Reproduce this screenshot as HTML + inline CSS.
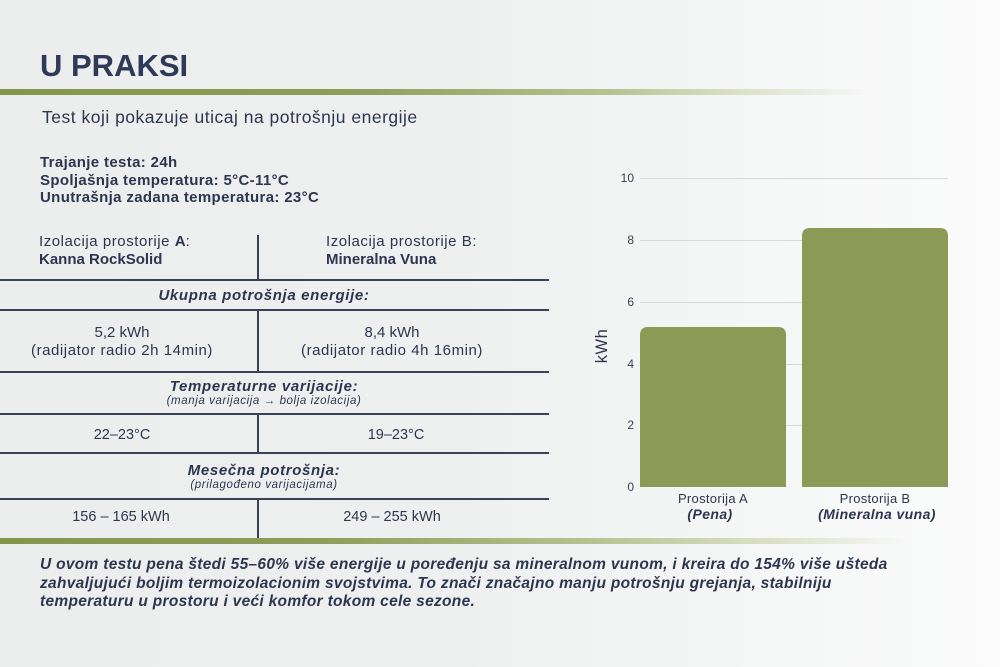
<!DOCTYPE html>
<html><head><meta charset="utf-8"><style>
html,body{margin:0;padding:0;}
body{width:1000px;height:667px;position:relative;overflow:hidden;
background:linear-gradient(90deg,#eceded 0%,#eef0f0 45%,#f6f7f7 80%,#fbfbfb 100%);
font-family:"Liberation Sans",sans-serif;color:#2d3650;}
.a{position:absolute;white-space:nowrap;}
.hl{position:absolute;left:0;height:1.5px;background:#3b4258;}
.vl{position:absolute;width:1.5px;background:#3b4258;left:257px;}
.c{position:absolute;text-align:center;white-space:nowrap;transform:translateX(-50%);}
.w{letter-spacing:0.55px;}
.hb{font-size:15px;font-weight:bold;font-style:italic;letter-spacing:0.65px;}
.sm{font-size:11.5px;font-style:italic;letter-spacing:0.6px;}
</style></head><body>
<div class="a" style="left:40px;top:48px;font-size:31px;font-weight:bold;color:#2f3a58;">U PRAKSI</div>
<div style="position:absolute;left:0;top:89px;width:870px;height:6px;background:linear-gradient(90deg,#84954c 0%,#8e9d58 40%,#b9c192 70%,#dde0c8 85%,rgba(240,240,235,0) 100%);"></div>
<div class="a" style="left:42px;top:107px;font-size:17.5px;letter-spacing:0.5px;">Test koji pokazuje uticaj na potrošnju energije</div>
<div class="a" style="left:40px;top:154px;font-size:15px;font-weight:bold;line-height:17.5px;letter-spacing:0.35px;">Trajanje testa: 24h<br>Spoljašnja temperatura: 5°C-11°C<br>Unutrašnja zadana temperatura: 23°C</div>

<div class="a" style="left:39px;top:233px;font-size:15px;line-height:17.5px;"><span class="w">Izolacija prostorije <b style="letter-spacing:0">A</b>:</span><br><b>Kanna RockSolid</b></div>
<div class="a" style="left:326px;top:233px;font-size:15px;line-height:17.5px;"><span class="w">Izolacija prostorije B:</span><br><b>Mineralna Vuna</b></div>
<div class="vl" style="top:235px;height:44px;"></div>
<div class="hl" style="top:279px;width:549px;"></div>
<div class="c hb" style="left:264px;top:287px;">Ukupna potrošnja energije:</div>
<div class="hl" style="top:309px;width:549px;"></div>
<div class="vl" style="top:310px;height:62px;"></div>
<div class="c" style="left:122px;top:324px;font-size:15px;line-height:17.5px;">5,2 kWh<br><span class="w">(radijator radio 2h 14min)</span></div>
<div class="c" style="left:392px;top:324px;font-size:15px;line-height:17.5px;">8,4 kWh<br><span class="w">(radijator radio 4h 16min)</span></div>
<div class="hl" style="top:371px;width:549px;"></div>
<div class="c hb" style="left:264px;top:378px;">Temperaturne varijacije:</div>
<div class="c sm" style="left:264px;top:395px;">(manja varijacija → bolja izolacija)</div>
<div class="hl" style="top:413px;width:549px;"></div>
<div class="vl" style="top:414px;height:38px;"></div>
<div class="c" style="left:122px;top:427px;font-size:14.5px;">22–23°C</div>
<div class="c" style="left:396px;top:427px;font-size:14.5px;">19–23°C</div>
<div class="hl" style="top:452px;width:549px;"></div>
<div class="c hb" style="left:264px;top:462px;">Mesečna potrošnja:</div>
<div class="c sm" style="left:264px;top:479px;">(prilagođeno varijacijama)</div>
<div class="hl" style="top:498px;width:549px;"></div>
<div class="vl" style="top:499px;height:39px;"></div>
<div class="c" style="left:121px;top:509px;font-size:14.5px;">156 – 165 kWh</div>
<div class="c" style="left:392px;top:509px;font-size:14.5px;">249 – 255 kWh</div>

<div style="position:absolute;left:0;top:538px;width:910px;height:6px;background:linear-gradient(90deg,#84954c 0%,#8e9d58 35%,#b9c192 65%,#dde0c8 85%,rgba(240,240,235,0) 100%);"></div>
<div class="a" style="left:40px;top:556px;font-size:15.5px;font-weight:bold;font-style:italic;line-height:18.5px;letter-spacing:0.3px;">U ovom testu pena štedi 55–60% više energije u poređenju sa mineralnom vunom, i kreira do 154% više ušteda<br>zahvaljujući boljim termoizolacionim svojstvima. To znači značajno manju potrošnju grejanja, stabilniju<br>temperaturu u prostoru i veći komfor tokom cele sezone.</div>

<svg style="position:absolute;left:0;top:0" width="1000" height="667">
<g stroke="#d8d9da" stroke-width="1">
<line x1="640" y1="178.5" x2="948" y2="178.5"/>
<line x1="640" y1="240.5" x2="948" y2="240.5"/>
<line x1="640" y1="302.5" x2="948" y2="302.5"/>
<line x1="640" y1="364.5" x2="948" y2="364.5"/>
<line x1="640" y1="425.5" x2="948" y2="425.5"/>
</g>
<path d="M640,487 L640,335 Q640,327 648,327 L778,327 Q786,327 786,335 L786,487 Z" fill="#8c9a56"/>
<path d="M802,487 L802,236 Q802,228 810,228 L940,228 Q948,228 948,236 L948,487 Z" fill="#8c9a56"/>
<g font-family="Liberation Sans, sans-serif" font-size="12" fill="#3a3f4f" text-anchor="end">
<text x="634" y="182">10</text>
<text x="634" y="244">8</text>
<text x="634" y="306">6</text>
<text x="634" y="368">4</text>
<text x="634" y="429">2</text>
<text x="634" y="491">0</text>
</g>
<text x="0" y="0" transform="translate(607,346) rotate(-90)" text-anchor="middle" font-family="Liberation Sans, sans-serif" font-size="16.5" letter-spacing="0.5" fill="#2d3650">kWh</text>
<g font-family="Liberation Sans, sans-serif" fill="#2d3650" text-anchor="middle">
<text x="713" y="503" font-size="13" letter-spacing="0.3">Prostorija A</text>
<text x="710" y="519" font-size="14" font-weight="bold" font-style="italic" letter-spacing="0.4">(Pena)</text>
<text x="875" y="503" font-size="13" letter-spacing="0.3">Prostorija B</text>
<text x="877" y="519" font-size="14" font-weight="bold" font-style="italic" letter-spacing="0.4">(Mineralna vuna)</text>
</g>
</svg>
</body></html>
